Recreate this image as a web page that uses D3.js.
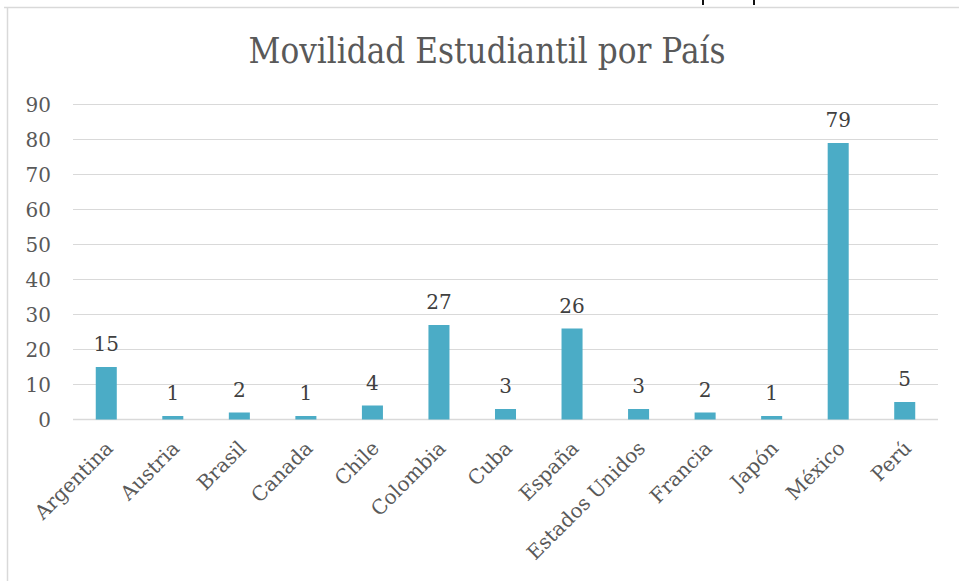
<!DOCTYPE html>
<html>
<head>
<meta charset="utf-8">
<script src="https://cdn.jsdelivr.net/npm/d3@7"></script>
<style>
  body { margin: 0; background: #fff; }
  svg { display: block; }
</style>
</head>
<body>
<svg id="chart" width="959" height="581"></svg>
<script>
// data
const countries = ["Argentina", "Austria", "Brasil", "Canada", "Chile", "Colombia", "Cuba",
  "España", "Estados Unidos", "Francia", "Japón", "México", "Perú"];
const students = [15, 1, 2, 1, 4, 27, 3, 26, 3, 2, 1, 79, 5];
const yTicks = [0, 10, 20, 30, 40, 50, 60, 70, 80, 90];

const svg = d3.select("#chart");
const serif = "'DejaVu Serif', 'Liberation Serif', serif";

// plot area
const plot = { left: 73, right: 938, top: 104.5, bottom: 419.5 };

// chart frame (only left and top edges show in the crop)
svg.append("line")
  .attr("x1", 4).attr("x2", 959).attr("y1", 7.5).attr("y2", 7.5)
  .attr("stroke", "#d9d9d9").attr("stroke-width", 1.5);
svg.append("line")
  .attr("x1", 7.5).attr("x2", 7.5).attr("y1", 7).attr("y2", 581)
  .attr("stroke", "#d9d9d9").attr("stroke-width", 1.5);

// bits of the document text above the chart
[703, 754].forEach(x => {
  svg.append("rect").attr("x", x - 1).attr("y", 0).attr("width", 2).attr("height", 5).attr("fill", "#111");
});

const x = d3.scaleBand()
  .domain(countries)
  .range([plot.left, plot.right])
  .paddingInner(0.684)
  .paddingOuter(0.342);

const y = d3.scaleLinear()
  .domain([0, 90])
  .range([plot.bottom, plot.top]);

// gridlines
svg.append("g")
  .selectAll("line")
  .data(yTicks)
  .join("line")
  .attr("x1", plot.left).attr("x2", plot.right)
  .attr("y1", d => y(d)).attr("y2", d => y(d))
  .attr("stroke", "#d9d9d9")
  .attr("stroke-width", d => d === 0 ? 1.5 : 1);

// y tick labels
svg.append("g")
  .selectAll("text")
  .data(yTicks)
  .join("text")
  .attr("x", 51)
  .attr("y", d => y(d) + 7)
  .attr("text-anchor", "end")
  .attr("fill", "#595959")
  .style("font-family", serif)
  .style("font-size", "20px")
  .text(d => d);

// bars
svg.append("g")
  .selectAll("rect")
  .data(students)
  .join("rect")
  .attr("x", (d, i) => x(countries[i]))
  .attr("y", d => y(d))
  .attr("width", x.bandwidth())
  .attr("height", d => y(0) - y(d))
  .attr("fill", "#4bacc6");

// data labels
svg.append("g")
  .selectAll("text")
  .data(students)
  .join("text")
  .attr("x", (d, i) => x(countries[i]) + x.bandwidth() / 2)
  .attr("y", d => y(d) - 16)
  .attr("text-anchor", "middle")
  .attr("fill", "#404040")
  .style("font-family", serif)
  .style("font-size", "20px")
  .text(d => d);

// category labels, rotated
svg.append("g")
  .selectAll("text")
  .data(countries)
  .join("text")
  .attr("transform", d => `translate(${x(d) + x.bandwidth() / 2 + 8},${plot.bottom + 30}) rotate(-45)`)
  .attr("text-anchor", "end")
  .attr("fill", "#595959")
  .style("font-family", serif)
  .style("font-size", "20px")
  .text(d => d);

// title
svg.append("text")
  .attr("x", 487)
  .attr("y", 63)
  .attr("text-anchor", "middle")
  .attr("fill", "#595959")
  .style("font-family", serif)
  .style("font-size", "35px")
  .attr("textLength", 477)
  .attr("lengthAdjust", "spacingAndGlyphs")
  .text("Movilidad Estudiantil por País");
</script>
</body>
</html>
